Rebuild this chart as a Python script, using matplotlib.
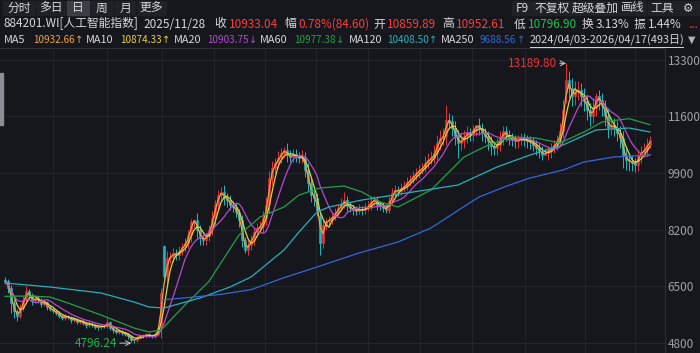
import numpy as np
import pandas as pd
import matplotlib
matplotlib.use("Agg")
import matplotlib.pyplot as plt
from matplotlib.patches import Rectangle

plt.rcParams["font.family"] = ["Noto Sans CJK SC", "DejaVu Sans"]

# one candle ~ 2.3 trading days, 2024/04 -> 2026/04
closes = [
    6650, 6450, 6000, 5750, 5600, 5850, 6100, 6350, 6250, 6050,
    6150, 6080, 5980, 6020, 5880, 5820, 5760, 5700, 5620, 5550,
    5600, 5570, 5490, 5520, 5430, 5460, 5400, 5340, 5380, 5330,
    5290, 5270, 5310, 5300, 5420, 5260, 5180, 5130, 5160, 5100,
    5060, 5000, 4900, 4880, 4980, 5030, 5000, 5060, 5020, 5000,
    5060, 5250,
    6300, 6800, 7350, 7380, 7500, 7450, 7560, 7680, 7800, 8040,
    8430, 8490, 8190, 7950, 7890, 8000, 8190, 8550, 8940, 9240,
    9330, 9150, 9090, 8940, 8880, 8730, 8490, 7890, 7600, 7740,
    7900, 8130, 8250, 8300, 8550, 8940, 9750, 10050, 10200, 10350,
    10500, 10590, 10440, 10380, 10470, 10380, 10350, 10380, 9990, 9600,
    9240, 9150, 8800, 7800,
    8350, 8450, 8500, 8580, 8700, 8850, 8950, 9100, 8900, 8850,
    8800, 8760, 8820, 8780, 8850, 8900, 9050, 9100, 8950, 8900,
    8860, 8800, 9050, 9300, 9400, 9350, 9450, 9500, 9620, 9700,
    9800, 9900, 9990, 10050, 10200, 10300, 10350, 10500, 10800, 10950,
    11000, 11500, 11450, 11250, 11000, 10800, 10850, 11000, 11100, 11050,
    11200, 11350, 11250, 11100, 11000, 10850, 10700, 10650, 10750, 10950,
    11150, 11050, 10950, 10900, 10850, 10900, 10950, 10900, 10850, 10820,
    10750, 10650, 10550, 10450, 10500, 10560, 10640, 10750, 10850, 11150,
    11800, 12700, 12450, 12200, 12350, 12400, 12200, 12050, 11800, 11600,
    11850, 12200, 12100, 11900, 11600, 11250, 11350, 11250, 11100, 10950,
    10450, 10300, 10250, 10200, 10150, 10400, 10520, 10600, 10750, 10900,
]
# shadow lengths above / below the body
up_wick = [
    80, 60, 100, 80, 60, 120, 100, 150, 80, 60, 90, 70, 60, 80, 50, 60, 50, 60, 50, 40,
    60, 50, 40, 60, 40, 50, 40, 40, 60, 40, 40, 30, 50, 40, 120, 40, 30, 40, 50, 30,
    40, 40, 30, 0, 40, 50, 30, 40, 30, 30, 40, 80,
    150, 100, 200, 150, 150, 120, 150, 120, 150, 150, 100, 150, 200, 150, 120, 100, 150, 200, 150, 150,
    150, 200, 150, 150, 120, 150, 100, 150, 100, 150, 150, 120, 150, 150, 200, 250, 200, 200, 150, 200,
    150, 0, 200, 150, 150, 150, 150, 200, 150, 200, 150, 200, 150, 100,
    150, 100, 100, 120, 150, 120, 200, 230, 100, 120, 100, 120, 150, 100, 150, 150, 150, 120, 100, 100,
    120, 100, 150, 150, 150, 120, 150, 150, 150, 150, 150, 150, 150, 150, 200, 200, 200, 250, 250, 250,
    250, 0, 200, 200, 200, 200, 250, 200, 200, 150, 150, 0, 200, 150, 150, 150, 150, 150, 200, 200,
    150, 150, 150, 150, 150, 150, 150, 150, 150, 150, 150, 150, 150, 150, 150, 150, 150, 150, 200, 250,
    300, 0, 250, 300, 300, 250, 200, 250, 200, 200, 300, 0, 200, 200, 200, 250, 200, 200, 200, 200,
    200, 200, 200, 200, 150, 200, 200, 200, 200, 100,
]
dn_wick = [
    80, 150, 300, 200, 150, 60, 80, 60, 100, 120, 60, 80, 90, 60, 80, 60, 70, 60, 80, 60,
    50, 60, 80, 50, 70, 50, 60, 80, 50, 60, 60, 70, 50, 60, 40, 80, 70, 60, 50, 70,
    60, 80, 60, 0, 50, 40, 60, 40, 50, 60, 40, 60,
    300, 100, 200, 150, 150, 150, 150, 120, 150, 150, 200, 150, 250, 200, 150, 150, 150, 150, 200, 150,
    150, 200, 200, 150, 150, 150, 200, 200, 0, 150, 150, 150, 150, 150, 200, 200, 250, 200, 150, 150,
    150, 150, 200, 150, 150, 150, 150, 150, 200, 250, 200, 250, 200, 0,
    150, 150, 100, 120, 100, 120, 100, 100, 150, 120, 150, 120, 100, 150, 100, 100, 100, 150, 150, 120,
    120, 0, 100, 100, 120, 150, 120, 100, 100, 100, 100, 100, 150, 120, 120, 150, 120, 150, 200, 200,
    200, 250, 200, 250, 250, 0, 200, 200, 200, 200, 200, 200, 200, 250, 200, 250, 250, 200, 200, 200,
    200, 200, 200, 200, 200, 200, 150, 200, 200, 200, 200, 200, 200, 200, 0, 200, 200, 150, 150, 150,
    200, 300, 300, 300, 250, 250, 300, 300, 300, 300, 200, 250, 300, 300, 300, 300, 200, 250, 250, 300,
    400, 300, 300, 250, 0, 200, 200, 150, 150, 100,
]
first_open = 6700
gap_opens = {53: 7700, 105: 8600, 187: 12300}
wick_high = {53: 7740, 63: 8520, 93: 10680, 147: 11940, 158: 11550, 187: 13189.80, 197: 12300}
wick_low = {43: 4796.24, 80: 7500, 105: 7450, 127: 8700, 151: 10350, 179: 10290, 210: 9930}

ma_short = {"MA5": 2, "MA10": 4, "MA20": 9}

ma60_idx = [0, 8, 15, 21, 32, 43, 48, 52, 60, 68, 78, 85, 93, 98, 105, 113, 119,
            125, 131, 142, 153, 161, 169, 177, 185, 193, 199, 208, 215]
ma60_val = [6200, 6210, 6180, 6000, 5640, 5250, 5130, 5190, 5940, 6650, 8040, 8580,
            8880, 9240, 9450, 9510, 9330, 9030, 8880, 9390, 10380, 10740, 10980,
            10950, 10800, 11130, 11430, 11530, 11350]
ma120_idx = [0, 15, 32, 43, 48, 53, 65, 75, 82, 93, 98, 104, 108, 119, 136, 151,
             164, 175, 186, 197, 208, 215]
ma120_val = [6600, 6480, 6300, 6030, 5880, 5850, 6150, 6480, 6780, 7590, 8130, 8730,
             8880, 9090, 9330, 9540, 10080, 10440, 10740, 11190, 11250, 11130]
ma250_idx = [52, 62, 72, 82, 93, 102, 108, 118, 131, 142, 150, 158, 167, 175, 186,
             193, 203, 215]
ma250_val = [6090, 6170, 6260, 6400, 6760, 7020, 7200, 7500, 7830, 8250, 8720, 9180,
             9500, 9750, 9990, 10230, 10380, 10440]

yticks = [4800, 6500, 8200, 9900, 11600, 13300]
month_marks = [16, 34, 52.3, 69.7, 86.7, 103.7, 121, 138.3, 155.7, 173.3, 193.3, 210]

BG = "#15171c"
UP, DOWN = "#e8333b", "#24b7c0"
MA_COLORS = {"MA5": "#f2a23a", "MA10": "#e3cf45", "MA20": "#b748d2",
             "MA60": "#23a04a", "MA120": "#27b0bb", "MA250": "#3467dc"}
TXT = "#d6d7da"

W, H = 700, 353
fig = plt.figure(figsize=(7, 3.53), dpi=100, facecolor=BG)
ax = fig.add_axes([0, 0, 665 / W, 305 / H], facecolor=BG)

c = pd.Series(closes, dtype=float)
o = c.shift(1)
o.iloc[0] = first_open
for k, v in gap_opens.items():
    o.iloc[k] = v
hi = np.maximum(o, c) + np.array(up_wick)
lo = np.minimum(o, c) - np.array(dn_wick)
for k, v in wick_high.items():
    hi.iloc[k] = v
for k, v in wick_low.items():
    lo.iloc[k] = v
x = np.arange(len(c))
col = np.where(c >= o, UP, DOWN)

ax.vlines(x, lo, hi, colors=col, linewidth=0.7, zorder=2)
ax.bar(x, (c - o).abs(), bottom=np.minimum(o, c), width=0.55, color=col,
       edgecolor=col, linewidth=0.4, zorder=2)

for name, win in ma_short.items():
    ax.plot(x, c.rolling(win, min_periods=1).mean(), color=MA_COLORS[name], lw=0.9, zorder=3)
ax.plot(ma60_idx, ma60_val, color=MA_COLORS["MA60"], lw=0.9, zorder=3)
ax.plot(ma120_idx, ma120_val, color=MA_COLORS["MA120"], lw=0.9, zorder=3)
ax.plot(ma250_idx, ma250_val, color=MA_COLORS["MA250"], lw=0.9, zorder=3)

ax.annotate("13189.80", xy=(187, 13189.80), xytext=(-9, 0), textcoords="offset pixels",
            ha="right", va="center", color="#e8333b", fontsize=8.5,
            arrowprops=dict(arrowstyle="->", color="#c8c8c8", lw=0.7, shrinkA=0, shrinkB=0))
ax.annotate("4796.24", xy=(43, 4796.24), xytext=(-17, 0), textcoords="offset pixels",
            ha="right", va="center", color="#22b04a", fontsize=8.5,
            arrowprops=dict(arrowstyle="->", color="#c8c8c8", lw=0.7, shrinkA=0, shrinkB=2))

ax.set_xlim(-5 / 3, 220)
ax.set_ylim(4500, 13650)
ax.yaxis.tick_right()
ax.set_yticks(yticks)
ax.set_xticks(month_marks)
ax.tick_params(axis="y", length=0, pad=2, labelcolor="#9ea1a7", labelsize=8.5)
ax.tick_params(axis="x", length=0, labelbottom=False)
ax.grid(True, color="#23262c", lw=0.7)
ax.set_axisbelow(True)
for s in ["left", "bottom"]:
    ax.spines[s].set_visible(False)
for s in ["right", "top"]:
    ax.spines[s].set_color("#2c2f36")
    ax.spines[s].set_linewidth(0.8)

# scroll handle at left edge
fig.patches.append(Rectangle((0, 1 - 125 / H), 3 / W, 52 / H, transform=fig.transFigure,
                             color="#8b8e94", zorder=5))


def T(px, py, s, color=TXT, size=8.5, **kw):
    return fig.text(px / W, 1 - py / H, s, color=color, fontsize=size, va="center", **kw)


def box(x0, x1, y0, y1, color):
    fig.patches.append(Rectangle((x0 / W, 1 - y1 / H), (x1 - x0) / W, (y1 - y0) / H,
                                 transform=fig.transFigure, color=color, zorder=0))


# row 1: period tabs and tools
tabs = [(3, 35, "分时"), (37, 65, "多日"), (67, 89, "日"), (91, 113, "周"),
        (115, 135, "月"), (137, 166, "更多")]
for x0, x1, s in tabs:
    box(x0, x1, 1, 15, "#3b3e45" if s == "日" else "#1f2127")
    T((x0 + x1) / 2, 8, s, ha="center")
tools = [(512, 533, "F9"), (534, 570, "不复权"), (571, 619, "超级叠加"),
         (620, 646, "画线"), (648, 676, "工具"), (677, 699, "⚙")]
for x0, x1, s in tools:
    box(x0, x1, 1, 15, "#1f2127")
    T((x0 + x1) / 2, 8, s, ha="center")

RED, GRN = "#ff3b3b", "#22c04a"
row2 = [(4, "884201.WI[人工智能指数]", TXT), (143, "2025/11/28", TXT), (214, "收", TXT),
        (229, "10933.04", RED), (284, "幅", TXT), (298, "0.78%(84.60)", RED),
        (373, "开", TXT), (387, "10859.89", RED), (442, "高", TXT), (456, "10952.61", RED),
        (514, "低", TXT), (528, "10796.90", GRN), (582, "换", TXT), (596, "3.13%", TXT),
        (634, "振", TXT), (648, "1.44%", TXT), (688, "...", RED)]
for px, s, cl in row2:
    T(px, 24, s, cl, ha="left")

# row 3: moving average readout, arrow placed right after each value
renderer = fig.canvas.get_renderer()
row3 = [(4, "MA5", 33, "10932.66", "↑"), (86, "MA10", 120, "10874.33", "↑"),
        (174, "MA20", 207, "10903.75", "↓"), (260, "MA60", 294, "10977.38", "↓"),
        (349, "MA120", 387, "10408.50", "↑"), (441, "MA250", 480, "9688.56", "↑")]
for lx, name, vx, val, arrow in row3:
    T(lx, 40, name, TXT, size=7.8, ha="left")
    t = T(vx, 40, val, MA_COLORS[name], size=7.2, ha="left")
    right = t.get_window_extent(renderer).x1
    T(right + 0.5, 40, arrow, MA_COLORS[name], size=7, ha="left", family=["DejaVu Sans"])
T(530, 40, "2024/04/03-2026/04/17(493日)", TXT, size=7.9, ha="left")
T(688, 40, "▼", "#b0b2b6", size=7, ha="left", family=["DejaVu Sans"])
fig.lines.append(plt.Line2D([530 / W, 683 / W], [1 - 47 / H, 1 - 47 / H],
                            transform=fig.transFigure, color=TXT, lw=0.7))

fig.savefig("out.png", dpi=100, facecolor=BG)
